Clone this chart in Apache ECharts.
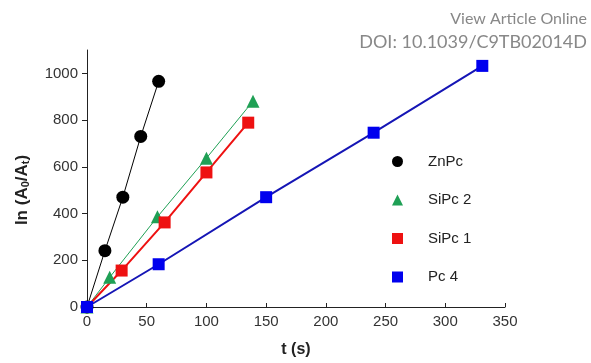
<!DOCTYPE html>
<html><head><meta charset="utf-8">
<script src="https://cdn.jsdelivr.net/npm/echarts@6/dist/echarts.min.js"></script>
<style>html,body{margin:0;padding:0;background:#fff}#c{width:591px;height:363px}</style>
</head><body><div id="c"></div>
<script>
const xTicks = [0, 50, 100, 150, 200, 250, 300, 350];
const yTicks = [0, 200, 400, 600, 800, 1000];
const znpc = [[0,0],[15,241],[30,470],[45,730],[60,966]];
const sipc2 = [[0,0],[19,127],[59,386],[100,637],[139,881]];
const sipc1 = [[0,0],[29,156],[65,362],[100,576],[135,789]];
const pc4 = [[0,0],[60,183],[150,470],[240,746],[331,1032]];

const chart = echarts.init(document.getElementById('c'));
const font = '"Liberation Sans", Arial, sans-serif';
chart.setOption({
  animation:false,
  grid:{left:87,right:86,top:50,bottom:54},
  graphic:[
    {type:'text',right:4,top:11,style:{text:'View Article Online',font:'16px Lato, sans-serif',fill:'#888',textAlign:'right'}},
    {type:'text',right:4,top:33,style:{text:'DOI: 10.1039/C9TB02014D',font:'18px Lato, sans-serif',fill:'#888',textAlign:'right'}},
    {type:'text',x:22,y:190,rotation:Math.PI/2,
      style:{text:'ln (A{s|0}/A{s|t})',fontFamily:font,fontSize:17,fontWeight:'bold',fill:'#222',
        align:'center',verticalAlign:'middle',
        rich:{s:{fontFamily:font,fontSize:11,fontWeight:'bold',fill:'#222',padding:[8,0,0,0]}}}}
  ],
  legend:{orient:'vertical',left:387,top:149,itemGap:23.5,itemWidth:11,itemHeight:11,
    textStyle:{fontFamily:font,fontSize:15,color:'#222',padding:[0,0,0,20]},
    data:[{name:'ZnPc',icon:'circle',itemStyle:{color:'#000'}},
          {name:'SiPc 2',icon:'triangle',itemStyle:{color:'#1fa055'}},
          {name:'SiPc 1',icon:'rect',itemStyle:{color:'#ee1111'}},
          {name:'Pc 4',icon:'rect',itemStyle:{color:'#0000ee'}}]},
  xAxis:{type:'value',min:xTicks[0],max:xTicks[xTicks.length-1],interval:50,
    name:'t (s)',nameLocation:'middle',nameGap:35,
    nameTextStyle:{fontFamily:font,fontSize:16,fontWeight:'bold',color:'#222'},
    axisLine:{lineStyle:{color:'#222'}},
    axisTick:{inside:true,length:4,lineStyle:{color:'#222'}},
    axisLabel:{fontFamily:font,fontSize:15,color:'#333',margin:7},
    splitLine:{show:false}},
  yAxis:{type:'value',min:0,max:1100,interval:200,
    axisLine:{show:true,lineStyle:{color:'#222'}},
    axisTick:{show:true,length:5,lineStyle:{color:'#222'},customValues:yTicks},
    axisLabel:{fontFamily:font,fontSize:15,color:'#333',margin:9,customValues:yTicks,
      formatter:v=>String(v)},
    splitLine:{show:false}},
  series:[
    {name:'ZnPc',type:'line',data:znpc,symbol:'circle',symbolSize:13,
      lineStyle:{color:'#000',width:1},itemStyle:{color:'#000'},z:4},
    {name:'SiPc 2',type:'line',data:sipc2,symbol:'triangle',symbolSize:13,
      lineStyle:{color:'#1fa055',width:1},itemStyle:{color:'#1fa055'},z:3},
    {name:'SiPc 1',type:'line',data:sipc1,symbol:'rect',symbolSize:12,
      lineStyle:{color:'#ee1111',width:2},itemStyle:{color:'#ee1111'},z:3},
    {name:'Pc 4',type:'line',data:pc4,symbol:'rect',symbolSize:12,
      lineStyle:{color:'#1515b5',width:2},itemStyle:{color:'#0000ee'},z:5}
  ]
});
</script></body></html>
